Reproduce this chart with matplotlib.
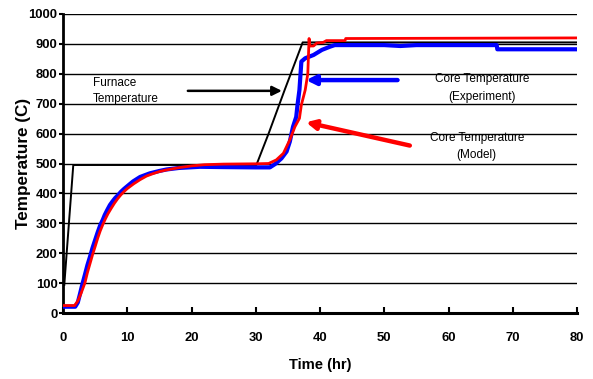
import matplotlib
matplotlib.use("Agg")
import matplotlib.pyplot as plt
from matplotlib import font_manager

# Data
furnace_t = [0.2, 1.6, 30.1, 32.0, 34.5, 37.3, 80.0]
furnace_T = [94, 495, 495, 600, 746, 905, 905]

exp_t = [0, 1.9, 2.3, 2.6, 3.0, 3.4, 3.8, 4.2, 4.6, 5.0, 5.4, 5.8, 6.2, 6.5, 6.9,
         7.3, 7.7, 8.1, 8.6, 9.0, 9.5, 10.0, 10.9, 12.0, 13.5, 15.0, 16.1, 18.0,
         21.3, 25.0, 30.0, 32.2, 33.0, 34.0, 34.8, 35.3, 35.8, 36.3, 36.5, 36.8,
         37.1, 37.7, 39.0, 40.3, 41.6, 42.3, 50.0, 52.5, 55.0, 60.0, 67.5, 67.6, 80.0]
exp_T = [21, 21, 35, 60, 95, 127, 160, 188, 218, 244, 270, 294, 312, 328, 345,
         361, 373, 384, 395, 405, 415, 424, 440, 455, 467, 475, 480, 485,
         489, 488, 487, 487, 498, 517, 540, 573, 623, 656, 696, 746,
         841, 852, 863, 880, 891, 896, 896, 893, 896, 896, 896, 882, 882]

model_t = [0, 1.8, 2.3, 2.8, 3.4, 3.8, 4.2, 4.6, 5.0, 5.4, 5.8, 6.2, 6.6, 7.0,
           7.5, 8.0, 8.5, 9.0, 9.5, 10.0, 11.0, 12.0, 13.0, 14.0, 15.0, 16.0,
           18.0, 20.0, 22.0, 25.0, 30.0, 32.0, 33.2, 34.3, 35.3, 36.1, 36.8,
           37.1, 37.7, 38.1, 38.3, 38.4, 39.0, 39.5, 40.5, 41.0, 43.9, 44.0, 80.0]
model_T = [25, 25, 40, 65, 100, 135, 165, 195, 222, 250, 275, 296, 315, 332,
           350, 367, 382, 395, 406, 416, 432, 446, 458, 466, 473, 478,
           486, 492, 496, 498, 499, 500, 512, 534, 579, 623, 651,
           696, 746, 800, 918, 893, 893, 903, 905, 911, 911, 918, 920]

x_ticks = [0, 10, 20, 30, 40, 50, 60, 70, 80]
y_ticks = [0, 100, 200, 300, 400, 500, 600, 700, 800, 900, 1000]

names = {f.name for f in font_manager.fontManager.ttflist}
narrow = "Liberation Sans Narrow" in names
fam = ["Liberation Sans Narrow", "Liberation Sans"] if narrow else ["Liberation Sans"]
k = 1.0 if narrow else 0.85
plt.rcParams["font.family"] = fam

fig = plt.figure(figsize=(5.93, 3.79), dpi=100)
ax = fig.add_axes([63/593, 1 - 313/379, 514/593, 299/379])

ax.set_xlim(0, 80)
ax.set_ylim(0, 1000)
ax.set_yticks(y_ticks)
ax.set_xticks(x_ticks)
for y in y_ticks[1:]:
    ax.axhline(y, color="black", lw=1.0, zorder=1)

ax.plot(furnace_t, furnace_T, color="black", lw=1.4, zorder=3)
ax.plot(exp_t, exp_T, color="#0000ff", lw=3.0, zorder=4)
ax.plot(model_t, model_T, color="#ff0000", lw=2.0, zorder=5)

for s in ("top", "right"):
    ax.spines[s].set_visible(False)
ax.spines["left"].set_linewidth(2)
ax.spines["bottom"].set_linewidth(2.2)

ax.tick_params(axis="x", direction="in", length=4, width=1.5, pad=14)
ax.tick_params(axis="y", direction="out", length=3, width=1.5, pad=1)
for lab in ax.get_xticklabels() + ax.get_yticklabels():
    lab.set_fontweight("bold")
    lab.set_fontsize(11 * k)

ax.set_xlabel("Time (hr)", fontsize=12.5 * k, fontweight="bold", labelpad=10)
ax.set_ylabel("Temperature (C)", fontsize=14.5 * k, fontweight="bold", labelpad=-2)

# annotations
ax.text(4.7, 742, "Furnace\nTemperature", fontsize=10 * k, ha="left", va="center",
        linespacing=1.5, zorder=6)
ax.text(65.2, 752, "Core Temperature\n(Experiment)", fontsize=10 * k, ha="center",
        va="center", multialignment="center", linespacing=1.6, zorder=6)
ax.text(64.4, 557, "Core Temperature\n(Model)", fontsize=10 * k, ha="center",
        va="center", multialignment="center", linespacing=1.6, zorder=6)

ax.annotate("", xy=(34.5, 743), xytext=(19, 743),
            arrowprops=dict(arrowstyle="-|>", color="black", lw=1.8, mutation_scale=14),
            zorder=6)
ax.annotate("", xy=(37.4, 779), xytext=(52.5, 779),
            arrowprops=dict(arrowstyle="-|>", color="#0000ff", lw=3.2, mutation_scale=14),
            zorder=6)
ax.annotate("", xy=(37.4, 640), xytext=(54.4, 558),
            arrowprops=dict(arrowstyle="-|>", color="#ff0000", lw=3.2, mutation_scale=14),
            zorder=6)

fig.savefig("out.png", dpi=100)
